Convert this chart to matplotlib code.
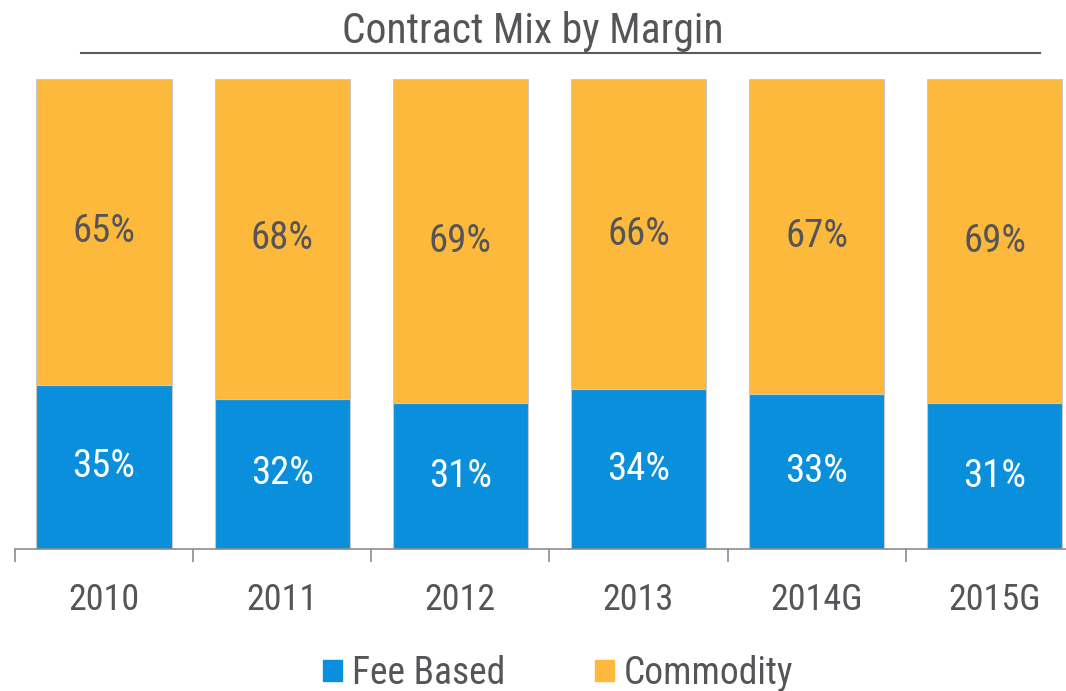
import numpy as np
import matplotlib
matplotlib.use("Agg")
import matplotlib.pyplot as plt
from matplotlib.patches import Patch
from matplotlib import font_manager

# Data
years = ["2010", "2011", "2012", "2013", "2014G", "2015G"]
fee_based = [35, 32, 31, 34, 33, 31]
commodity = [65, 68, 69, 66, 67, 69]

blue = "#0a8fdc"
orange = "#fdb93b"
text_col = "#555559"

available = {f.name for f in font_manager.fontManager.ttflist}
narrow = [n for n in ["Roboto Condensed", "Liberation Sans Narrow", "Open Sans Condensed",
                      "Roboto", "Liberation Sans"] if n in available]
plt.rcParams["font.family"] = narrow + ["DejaVu Sans"]

fig = plt.figure(figsize=(10.66, 6.91), dpi=100)
ax = fig.add_axes([15 / 1066, (691 - 549) / 691, 1051 / 1066, 470 / 691])

x = np.arange(len(years))
fee = np.array(fee_based) / 100
com = np.array(commodity) / 100

ax.bar(x, fee, width=0.76, color=blue, edgecolor="#c8c8c8", linewidth=0.8)
ax.bar(x, com, width=0.76, bottom=fee, color=orange, edgecolor="#c8c8c8", linewidth=0.8)

for i in range(len(years)):
    ax.text(x[i], fee[i] / 2, f"{fee_based[i]}%", ha="center", va="center",
            color="white", fontsize=28)
    ax.text(x[i], fee[i] + com[i] / 2, f"{commodity[i]}%", ha="center", va="center",
            color=text_col, fontsize=28)

ax.set_xlim(-0.5, 5.4)
ax.set_ylim(0, 1)

for s in ["top", "right", "left"]:
    ax.spines[s].set_visible(False)
ax.spines["bottom"].set_color("#8c8c8c")
ax.spines["bottom"].set_linewidth(1.2)
ax.set_yticks([])

ax.set_xticks(x)
ax.set_xticklabels(years, fontsize=26, color=text_col)
ax.tick_params(axis="x", which="major", length=0, pad=24)
ax.set_xticks(np.arange(-0.5, 5.5, 1), minor=True)
ax.tick_params(axis="x", which="minor", length=9, width=1.2, color="#8c8c8c")

# Title with underline
fig.text(0.5, 1 - 31 / 691, "Contract Mix by Margin", ha="center", va="center",
         fontsize=30, color=text_col)
fig.add_artist(plt.Line2D([81 / 1066, 1040 / 1066], [1 - 53 / 691, 1 - 53 / 691],
                          color="#58595b", linewidth=1.5))

handles = [Patch(color=blue, label="Fee Based"), Patch(color=orange, label="Commodity")]
fig.legend(handles=handles, loc="center", bbox_to_anchor=(0.5235, 1 - 673 / 691),
           ncol=2, frameon=False, fontsize=27, handlelength=0.5, handleheight=0.5,
           handletextpad=0.27, columnspacing=2.4, labelcolor=text_col)

plt.savefig("out.png", dpi=100)
